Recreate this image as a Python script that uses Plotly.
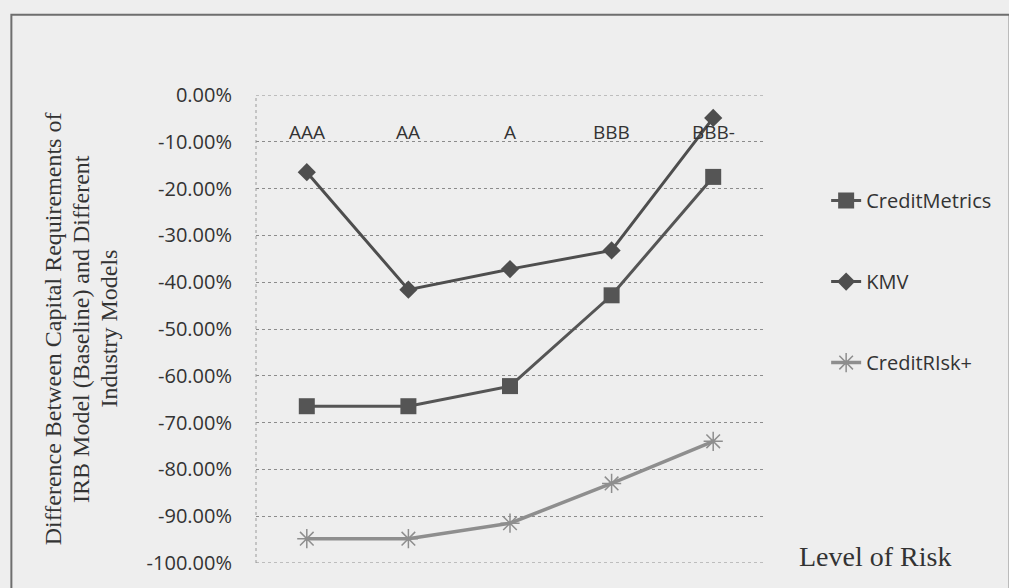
import plotly.graph_objects as go

# Rating grades on the horizontal axis
ratings = ["AAA", "AA", "A", "BBB", "BBB-"]

# Difference in capital requirements vs. the IRB baseline (fractions)
credit_metrics = [-0.665, -0.665, -0.622, -0.428, -0.175]
kmv = [-0.165, -0.416, -0.372, -0.332, -0.049]
credit_risk_plus = [-0.948, -0.948, -0.915, -0.830, -0.740]

y_ticks = [0, -0.1, -0.2, -0.3, -0.4, -0.5, -0.6, -0.7, -0.8, -0.9, -1.0]
y_tick_text = ["0.00%", "-10.00%", "-20.00%", "-30.00%", "-40.00%", "-50.00%",
               "-60.00%", "-70.00%", "-80.00%", "-90.00%", "-100.00%"]

W, H = 1009, 588
L, R, T, B = 256, 238, 95, 20
PW, PH = W - L - R, H - T - B


def px_x(p):
    return (p - L) / PW


def px_y(p):
    return 1 - (p - T) / PH


bg = "#eeeeee"
grid = "#8c8c8c"
fig = go.Figure()

fig.add_trace(go.Scatter(
    x=ratings, y=credit_metrics, name="CreditMetrics", mode="lines+markers",
    line=dict(color="#555555", width=3),
    marker=dict(symbol="square", size=16, color="#555555"),
    legendgroup="cm",
))
fig.add_trace(go.Scatter(
    x=ratings, y=kmv, name="KMV", mode="lines+markers",
    line=dict(color="#4e4e4e", width=3),
    marker=dict(symbol="diamond", size=14, color="#4e4e4e"),
    legendgroup="kmv",
))
fig.add_trace(go.Scatter(
    x=ratings, y=credit_risk_plus, name="CreditRIsk+", mode="lines+markers",
    line=dict(color="#8e8e8e", width=3.5),
    marker=dict(symbol="asterisk-open", size=16, color="#8e8e8e",
                line=dict(color="#8e8e8e", width=1.5)),
    legendgroup="crp",
))

# Category names drawn inside the plot just below the 0% line
for r in ratings:
    fig.add_annotation(x=r, y=-0.08, xref="x", yref="y", text=r, showarrow=False,
                       font=dict(family="Open Sans", size=19, color="#333333"))

# Vertical axis title, one annotation per line (serif)
y_title_lines = ["Difference Between Capital Requirements of",
                 "IRB Model (Baseline) and Different",
                 "Industry Models"]
for line_text, cx in zip(y_title_lines, (50, 78, 106)):
    fig.add_annotation(
        x=px_x(cx), y=px_y(331), xref="paper", yref="paper",
        xanchor="center", yanchor="middle",
        text=line_text, textangle=-90, showarrow=False,
        font=dict(family="Liberation Serif", size=24, color="#333333"),
    )

# Horizontal axis title
fig.add_annotation(
    x=px_x(884), y=px_y(561), xref="paper", yref="paper", text="Level of Risk",
    xanchor="center", yanchor="middle", showarrow=False,
    font=dict(family="Liberation Serif", size=28, color="#333333"),
)

# Outer chart frame
fig.add_shape(type="rect", xref="paper", yref="paper",
              x0=px_x(8), x1=px_x(1020), y0=px_y(600), y1=px_y(14),
              line=dict(color="#6e6e6e", width=2), layer="below")

# Plot area edges: left side, top (0%) and bottom (-100%)
fig.add_shape(type="line", xref="paper", yref="paper",
              x0=0, x1=0, y0=0, y1=1,
              line=dict(color="#9a9a9a", width=1, dash="dot"))
for yv in (y_ticks[0], y_ticks[-1]):
    fig.add_shape(type="line", xref="paper", yref="y",
                  x0=0, x1=1, y0=yv, y1=yv,
                  line=dict(color=grid, width=1, dash="dot"))

fig.update_layout(
    width=W, height=H,
    margin=dict(l=L, r=R, t=T, b=B),
    paper_bgcolor=bg, plot_bgcolor=bg,
    showlegend=True,
    legend=dict(x=px_x(834), y=px_y(182), xanchor="left", yanchor="top",
                bgcolor="rgba(0,0,0,0)", tracegroupgap=52,
                font=dict(family="Open Sans", size=20, color="#333333")),
    xaxis=dict(showticklabels=False, showgrid=False, zeroline=False,
               showline=False, range=[-0.5, 4.5], fixedrange=True),
    yaxis=dict(range=[-1.0, 0.0], tickvals=y_ticks, ticktext=y_tick_text,
               showgrid=True, gridcolor=grid, griddash="dot", gridwidth=1,
               zeroline=False, showline=False, ticks="",
               ticklabelstandoff=23,
               tickfont=dict(family="Open Sans", size=20, color="#333333")),
)

fig.write_html("out.html")
